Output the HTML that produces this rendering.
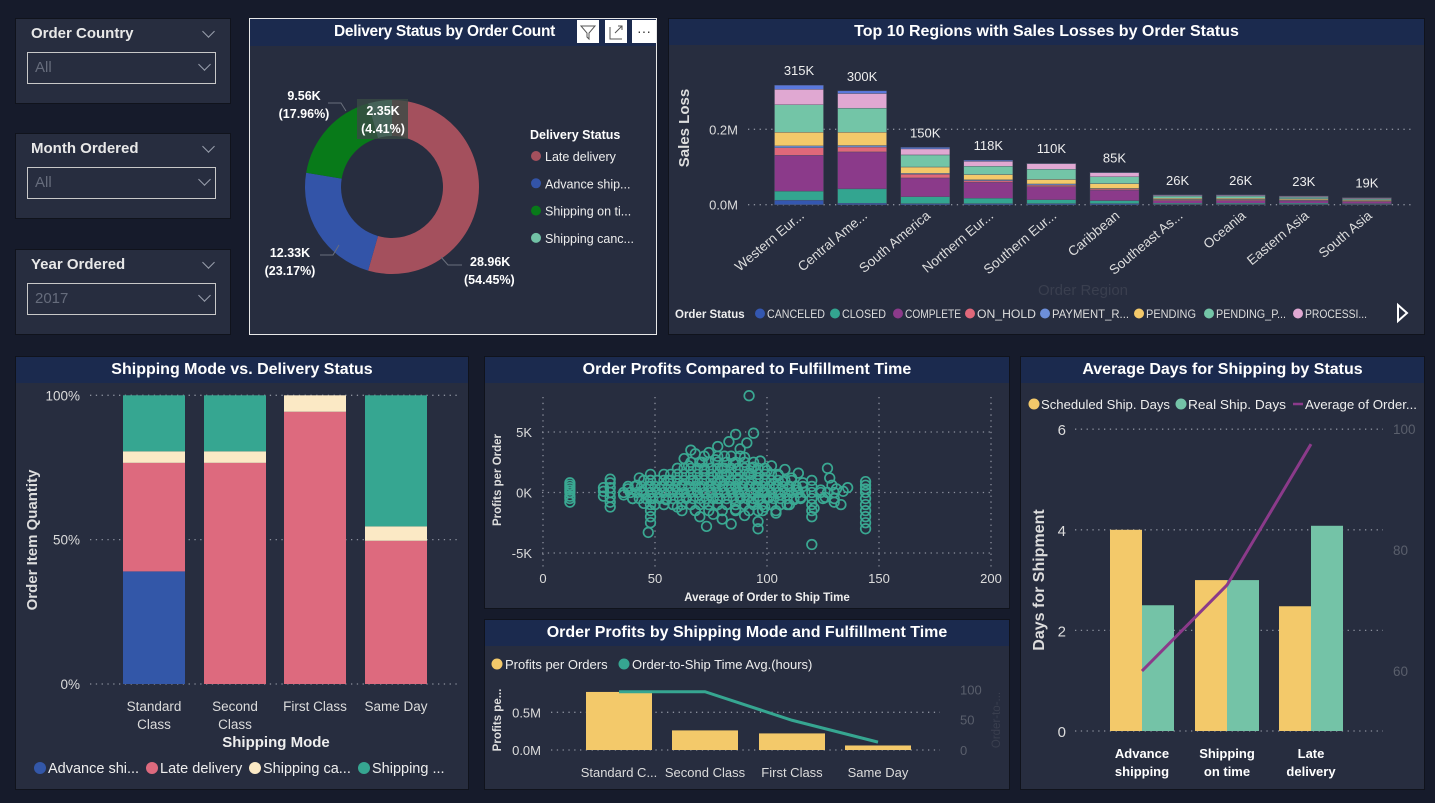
<!DOCTYPE html>
<html><head><meta charset="utf-8">
<style>
html,body{margin:0;padding:0;background:#161b2b;width:1435px;height:803px;overflow:hidden;font-family:"Liberation Sans",sans-serif;}
.panel{position:absolute;background:#272d3f;box-sizing:border-box;border:1px solid #10131c;}
.hdr{position:absolute;left:0;right:0;top:0;height:26px;background:#1b2a4e;color:#fff;font-weight:bold;font-size:16px;text-align:center;line-height:26px;}
.slicer-title{position:absolute;left:15px;top:6px;color:#e8e8e8;font-size:15px;font-weight:bold;}
.chev{position:absolute;width:8px;height:8px;border-right:1.5px solid #9aa0ad;border-bottom:1.5px solid #9aa0ad;transform:rotate(45deg);}
.dd{position:absolute;left:11px;top:33px;width:189px;height:32px;border:1.5px solid #c8c8c8;box-sizing:border-box;color:#666c7c;font-size:15px;line-height:30px;padding-left:7px;}
svg{position:absolute;left:0;top:0;}
</style></head><body>

<div class="panel" style="left:15px;top:18px;width:216px;height:86px;">
 <div class="slicer-title">Order Country</div>
 <div class="chev" style="left:188px;top:8px"></div>
 <div class="dd">All<div class="chev" style="left:172px;top:7px"></div></div>
</div>
<div class="panel" style="left:15px;top:133px;width:216px;height:86px;">
 <div class="slicer-title">Month Ordered</div>
 <div class="chev" style="left:188px;top:8px"></div>
 <div class="dd">All<div class="chev" style="left:172px;top:7px"></div></div>
</div>
<div class="panel" style="left:15px;top:249px;width:216px;height:86px;">
 <div class="slicer-title">Year Ordered</div>
 <div class="chev" style="left:188px;top:8px"></div>
 <div class="dd">2017<div class="chev" style="left:172px;top:7px"></div></div>
</div>

<div class="panel" style="left:249px;top:18px;width:408px;height:317px;border:1.5px solid #e8e8e8;">
 <div class="hdr" style="height:27px;text-align:left;padding-left:84px;font-size:15.5px;letter-spacing:-0.3px">Delivery Status by Order Count</div>
</div>
<div class="panel" style="left:668px;top:18px;width:757px;height:317px;">
 <div class="hdr">Top 10 Regions with Sales Losses by Order Status</div>
</div>
<div class="panel" style="left:15px;top:356px;width:454px;height:434px;">
 <div class="hdr">Shipping Mode vs. Delivery Status</div>
</div>
<div class="panel" style="left:484px;top:356px;width:526px;height:253px;">
 <div class="hdr">Order Profits Compared to Fulfillment Time</div>
</div>
<div class="panel" style="left:484px;top:619px;width:526px;height:171px;">
 <div class="hdr">Order Profits by Shipping Mode and Fulfillment Time</div>
</div>
<div class="panel" style="left:1020px;top:356px;width:405px;height:434px;">
 <div class="hdr">Average Days for Shipping by Status</div>
</div>

<svg id="s" width="1435" height="803"></svg>

<script>
// ---------- data ----------
const donutLabels = ["Late delivery","Advance shipping","Shipping on time","Shipping canceled"];
const donutValues = [28.96, 12.33, 9.56, 2.35];
const donutPct = ["54.45%","23.17%","17.96%","4.41%"];

const regionNames = ["Western Eur...","Central Ame...","South America","Northern Eur...","Southern Eur...","Caribbean","Southeast As...","Oceania","Eastern Asia","South Asia"];
const regionTotals = ["315K","300K","150K","118K","110K","85K","26K","26K","23K","19K"];
const statusNames = ["CANCELED","CLOSED","COMPLETE","ON_HOLD","PAYMENT_R...","PENDING","PENDING_P...","PROCESSI...","SUSPECTED"];
const sCanceled  = [12,4,3,3,3,3,1,1,1,1];
const sClosed    = [24,38,18,14,10,8,3,3,3,2];
const sComplete  = [95,98,50,43,35,28,7,7,6,5];
const sOnHold    = [20,13,10,4,4,3,2,2,2,2];
const sPayment   = [5,4,2,2,3,1,1,1,1,1];
const sPending   = [36,35,17,14,12,13,3,3,3,2];
const sPendingP  = [73,64,32,22,27,18,6,6,4,3];
const sProcess   = [41,39,16,13,15,11,2,2,2,2];
const sSuspected = [11,7,4,3,1,1,1,1,1,1];
const regionTicks = [0, 0.2];

const shipModes = ["Standard Class","Second Class","First Class","Same Day"];
const deliverySeries = ["Advance shi...","Late delivery","Shipping ca...","Shipping ..."];
const pctAdvance  = [39, 0, 0, 0];
const pctLate     = [37.6, 76.6, 94.3, 49.6];
const pctCanceled = [4, 4, 5.7, 5];
const pctOnTime   = [19.4, 19.4, 0, 45.4];

const scatterX = [12,12,12,12,12,12,12,12,27,27,27,30,30,30,30,30,30,30,36,38,40,42,44,45,43,48,48,48,48,48,48,48,48,48,47,
52,55,56,58,60,60,62,63,64,65,66,67,68,68,70,70,71,72,72,73,74,75,76,76,77,78,78,79,80,80,81,82,82,83,84,84,85,86,86,87,88,88,89,90,90,91,92,92,93,94,94,95,96,96,96,96,96,96,97,98,99,100,101,102,103,104,105,106,107,108,109,110,111,112,113,114,115,116,
120,120,120,120,120,120,120,120,121,124,126,128,129,130,131,127,134,136,133,144,144,144,144,144,144,144,144,144,144];
const scatterY = [-0.8,-0.5,-0.3,0,0.2,0.4,0.6,0.8,-0.3,0.1,0.4,-1.2,-0.8,-0.4,0,0.4,0.8,1.1,-0.2,0.3,-0.5,0.6,0.1,-0.9,1.2,-2.5,-2,-1.5,-1,-0.5,0,0.5,1,1.5,-3.3,
0.3,-0.6,1.0,0.2,-1.2,1.5,0.6,2.8,-0.4,2.2,3.5,1.0,-1.5,3.2,0.4,-2.0,2.5,1.8,-0.8,-2.8,3.3,0.2,1.3,-1.8,2.7,3.8,-0.5,0.9,-2.2,2.0,3.0,-1.0,1.5,4.2,0.3,-2.6,2.4,4.8,-1.4,1.1,3.6,-0.3,0.8,2.9,-1.9,4.1,8.0,1.6,-0.8,4.9,2.1,0.5,-3.0,-2.4,-1.5,-0.6,0.4,1.2,2.6,0.0,-1.2,1.8,-0.4,2.2,0.7,-1.7,1.4,-0.2,0.9,1.9,-1.0,0.5,1.2,-0.6,0.2,1.6,-0.4,0.8,
-4.3,-2.0,-1.5,-1,-0.5,0,0.5,1.0,-1.3,0.2,-0.4,1.2,0.6,-0.8,0.3,2.0,0.1,0.4,-1.0,-3.0,-2.5,-2,-1.5,-1,-0.5,0,0.3,0.6,0.9];
// dense core of the point cloud, one row of x positions per profit level (K)
const blobLevels = [3.0, 2.5, 2.0, 1.5, 1.0, 0.5, 0, -0.5, -1.0, -1.5];
const blobRowX = [
 [72,78,84,88],
 [66,70,74,78,82,86,90,94],
 [60,63,66,69,72,75,78,81,84,87,90,93,96,99],
 [54,57,60,63,66,69,72,75,78,81,84,87,90,93,96,99,102,105],
 [45,48,51,54,57,60,63,66,69,72,75,78,81,84,87,90,93,96,99,102,105,108,111],
 [38,41,44,47,50,53,56,59,62,65,68,71,74,77,80,83,86,89,92,95,98,101,104,107,110,113,116],
 [36,39,42,45,48,51,54,57,60,63,66,69,72,75,78,81,84,87,90,93,96,99,102,105,108,111,114,117,124,127,130],
 [40,43,46,49,52,55,58,61,64,67,70,73,76,79,82,85,88,91,94,97,100,103,106,109,112,115,125,130],
 [50,54,58,62,66,70,74,78,82,86,90,94,98,102,106,110],
 [62,68,74,80,86,92,98,104]
];
const scatterXTicks = [0,50,100,150,200];
const scatterYTicks = [-5,0,5];

const comboCats = ["Standard C...","Second Class","First Class","Same Day"];
const comboProfit = [0.77, 0.26, 0.22, 0.06];
const comboHours = [96, 96, 49, 13];

const daysCats = [["Advance","shipping"],["Shipping","on time"],["Late","delivery"]];
const daysScheduled = [4, 3, 2.48];
const daysReal = [2.5, 3, 4.08];
const daysAvgOrder = [60, 74.2, 97.5];
const daysLeftTicks = [0,2,4,6];
const daysRightTicks = [60,80,100];

// ---------- helpers ----------
const NS="http://www.w3.org/2000/svg";
const S=document.getElementById('s');
function mk(tag,a,parent){const e=document.createElementNS(NS,tag);for(const k in a)e.setAttribute(k,a[k]);(parent||S).appendChild(e);return e;}
function tx(x,y,str,a){const e=mk('text',Object.assign({x:x,y:y,fill:'#dcdcdc','font-size':13,'font-family':'Liberation Sans, sans-serif'},a||{}));e.textContent=str;return e;}
function grid(x1,x2,y){const e=mk('line',{x1:x1,x2:x2,y1:y,y2:y,stroke:'#8a8f9c','stroke-width':1.3,'stroke-dasharray':'1.3 4.5'});return e;}

// ---------- donut ----------
(function(){
 const cx=392,cy=187,R=87,r=51;const cols=['#a4505d','#3354a8','#087a19','#72c2a6'];
 const tot=donutValues.reduce((a,b)=>a+b,0);let a0=-Math.PI/2;
 donutValues.forEach((v,i)=>{const a1=a0+v/tot*2*Math.PI;const lg=(a1-a0)>Math.PI?1:0;
  const p=`M${cx+R*Math.cos(a0)},${cy+R*Math.sin(a0)} A${R},${R} 0 ${lg} 1 ${cx+R*Math.cos(a1)},${cy+R*Math.sin(a1)} L${cx+r*Math.cos(a1)},${cy+r*Math.sin(a1)} A${r},${r} 0 ${lg} 0 ${cx+r*Math.cos(a0)},${cy+r*Math.sin(a0)}Z`;
  const e=mk('path',{d:p,fill:cols[i]});
  
  
  a0=a1;});
 const fmt=v=>v.toFixed(2)+'K';
 mk('rect',{x:357,y:99,width:51,height:40,fill:'#3a4a45',opacity:0.8});
 const L=[[464,266,'start',0],[290,257,'middle',1],[304,100,'middle',2],[383,115,'middle',3]];
 L.forEach(([x,y,an,i])=>{const t1=tx(an==='start'?x+6:x,y,fmt(donutValues[i]),{fill:'#fff','font-weight':'bold','font-size':12.5,'text-anchor':an});
  
  
  const t2=tx(x,y+18,'('+donutPct[i]+')',{fill:'#fff','font-weight':'bold','font-size':12.5,'text-anchor':an});
  
  });
 mk('polyline',{points:'441,257 448,265 462,265',fill:'none',stroke:'#6a6f7c'});
 mk('polyline',{points:'339,245 333,255 320,255',fill:'none',stroke:'#6a6f7c'});
 mk('polyline',{points:'346,111 341,103 328,103',fill:'none',stroke:'#6a6f7c'});
 const lt=tx(530,139,'Delivery Status',{fill:'#fff','font-weight':'bold','font-size':12.5});
 
 
 const shortL=['Late delivery','Advance ship...','Shipping on ti...','Shipping canc...'];
 shortL.forEach((s,i)=>{const y=156+i*27.3;
  const c=mk('circle',{cx:536,cy:y,r:5,fill:cols[i]});
  
  
  const t=tx(545,y+5,s,{fill:'#eee','font-size':12.5});
  
  });
 [[577,'filter'],[605,'focus'],[632,'more']].forEach(([x,n])=>{const b=mk('rect',{x:x,y:20,width:n==='more'?24:22,height:23,fill:'#fff'});
  
  });
 mk('path',{d:'M581,26 L595,26 L589,33 L589,39 L587,37 L587,33Z',fill:'none',stroke:'#555','stroke-width':1});
 mk('path',{d:'M610,27 L610,39 L622,39 M615,33 L622,26 M618,26 L622,26 L622,30',fill:'none',stroke:'#555','stroke-width':1});
 tx(644,36,'···',{fill:'#333','font-size':14,'text-anchor':'middle'});
})();

// ---------- sales loss stacked ----------
(function(){
 const y0=204.7,pxK=0.377,x0=799,step=63.1,bw=49;
 const yv=v=>y0-v*pxK;
 const series=[sCanceled,sClosed,sComplete,sOnHold,sPayment,sPending,sPendingP,sProcess,sSuspected];
 const cols=['#3457b0','#33a590','#8b3a8a','#e0687a','#6d8fda','#f4c96a','#73c5a7','#e0a8d2','#5a78dc'];
 regionTicks.forEach(t=>{grid(748,1415,yv(t*1000));
  const l=tx(738,yv(t*1000)+5,t.toFixed(1)+'M',{'text-anchor':'end','font-size':13});
  
  });
 regionNames.forEach((n,i)=>{const cx=x0+i*step;let acc=0;
  series.forEach((s,j)=>{const v=s[i];const r=mk('rect',{x:cx-bw/2,y:yv(acc+v),width:bw,height:v*pxK,fill:cols[j],stroke:'#4a5060','stroke-width':0.4});
   
   
   acc+=v;});
  const tl=tx(cx,yv(acc)-10,regionTotals[i],{'text-anchor':'middle','font-size':13,fill:'#eee'});
  
  
  const c=tx(cx+6,217,n,{'text-anchor':'end','font-size':13.5,fill:'#ddd',transform:`rotate(-40 ${cx+6} 217)`});
  
  });
 const yt=tx(689,128,'Sales Loss',{'text-anchor':'middle','font-size':15,'font-weight':'bold',fill:'#ddd',transform:'rotate(-90 689 128)'});
 
 
 const xt=tx(1083,295,'Order Region',{'text-anchor':'middle','font-size':15,fill:'#3a3f4f'});
 
 
 const lg=tx(675,318,'Order Status',{'font-size':11.5,'font-weight':'bold',fill:'#eee'});
 
 
 const lx=[760,835,898,970,1045,1139,1209,1298];
 const lw=[58,44,56,59,77,50,70,62];
 lx.forEach((x,j)=>{const c=mk('circle',{cx:x,cy:313.5,r:5,fill:cols[j]});
  
  
  const t=tx(x+7,318,statusNames[j],{'font-size':12,fill:'#ddd',textLength:lw[j],lengthAdjust:'spacingAndGlyphs'});
  
  });
 const ar=mk('path',{d:'M1398,305 L1407,313 L1398,321Z',fill:'none',stroke:'#fff','stroke-width':2});
 
 
})();

// ---------- shipping mode 100% stacked ----------
(function(){
 const y0=684,h=288.7,bw=62,cxs=[154,235,315,396];
 const yv=p=>y0-p/100*h;
 const series=[pctAdvance,pctLate,pctCanceled,pctOnTime];
 const cols=['#3357a8','#dd6a7e','#fbe9c5','#36a691'];
 [0,50,100].forEach(t=>{grid(90,460,yv(t));
  const l=tx(80,yv(t)+5,t+'%',{'text-anchor':'end','font-size':13.5});
  
  });
 shipModes.forEach((m,i)=>{let acc=0;
  series.forEach((s,j)=>{const v=s[i];if(v<=0)return;
   const r=mk('rect',{x:cxs[i]-bw/2,y:yv(acc+v),width:bw,height:v/100*h,fill:cols[j]});
   
   
   acc+=v;});
  const w=m.split(' ');
  const lines=(m==='First Class'||m==='Same Day')?[m]:w;
  lines.forEach((ln,k)=>{const t=tx(cxs[i],711+k*18,ln,{'text-anchor':'middle','font-size':13.5});
   
   });});
 const yt=tx(37,540,'Order Item Quantity',{'text-anchor':'middle','font-size':15,'font-weight':'bold',fill:'#ddd',transform:'rotate(-90 37 540)'});
 
 
 const xt=tx(276,747,'Shipping Mode',{'text-anchor':'middle','font-size':15,'font-weight':'bold',fill:'#eee'});
 
 
 const lx=[40,152,255,364];
 lx.forEach((x,j)=>{const c=mk('circle',{cx:x,cy:768,r:6,fill:cols[j]});
  
  
  const t=tx(x+8,773,deliverySeries[j],{'font-size':14.5,fill:'#eee'});
  
  });
})();

// ---------- scatter ----------
(function(){
 const xv=v=>543+v*2.24,yv=v=>492.5-v*12.1;
 scatterYTicks.forEach(t=>{grid(542,991,yv(t));
  const l=tx(532,yv(t)+5,t+'K',{'text-anchor':'end','font-size':13});
  
  });
 scatterXTicks.forEach(t=>{const g=mk('line',{x1:xv(t),x2:xv(t),y1:397,y2:567,stroke:'#8a8f9c','stroke-width':1.3,'stroke-dasharray':'1.3 4.5'});
  
  
  const l=tx(xv(t),583,String(t),{'text-anchor':'middle','font-size':13});
  
  });
 const pt=(x,y)=>{const c=mk('circle',{cx:xv(x),cy:yv(y),r:4.8,fill:'none',stroke:'#3aa892','stroke-width':1.7});
  
  };
 scatterX.forEach((x,i)=>pt(x,scatterY[i]));
 blobLevels.forEach((y,k)=>blobRowX[k].forEach(x=>pt(x,y)));
 const xt=tx(767,601,'Average of Order to Ship Time',{'text-anchor':'middle','font-size':11.5,'font-weight':'bold',fill:'#eee'});
 
 
 const yt=tx(501,480,'Profits per Order',{'text-anchor':'middle','font-size':11.5,'font-weight':'bold',fill:'#ddd',transform:'rotate(-90 501 480)'});
 
 
})();

// ---------- combo ----------
(function(){
 const y0=750,pxM=75.4,pxH=0.607,cxs=[619,705,792,878],bw=66;
 const yv=v=>y0-v*pxM,yh=v=>y0-v*pxH;
 [0,0.5].forEach(t=>{grid(551,940,yv(t));
  const l=tx(541,yv(t)+5,t.toFixed(1)+'M',{'text-anchor':'end','font-size':13});
  
  });
 [0,50,100].forEach(t=>{const l=tx(960,yh(t)+5,String(t),{'text-anchor':'start','font-size':13,fill:'#5a5f6c'});
  
  });
 comboCats.forEach((c,i)=>{const r=mk('rect',{x:cxs[i]-bw/2,y:yv(comboProfit[i]),width:bw,height:comboProfit[i]*pxM,fill:'#f3c96a'});
  
  
  const t=tx(cxs[i],777,c,{'text-anchor':'middle','font-size':13});
  
  });
 const pl=mk('polyline',{points:comboHours.map((h,i)=>cxs[i]+','+yh(h)).join(' '),fill:'none',stroke:'#36a691','stroke-width':3});
 
 
 [[497,'#f3c96a','Profits per Orders'],[624,'#36a691','Order-to-Ship Time Avg.(hours)']].forEach(([x,c,s])=>{
  const m=mk('circle',{cx:x,cy:664,r:5.5,fill:c});
  
  
  const t=tx(x+8,669,s,{'font-size':13,fill:'#eee'});
  
  });
 const yt=tx(501,720,'Profits pe...',{'text-anchor':'middle','font-size':11.5,'font-weight':'bold',fill:'#ddd',transform:'rotate(-90 501 720)'});
 
 
 const rt=tx(1000,720,'Order-to-...',{'text-anchor':'middle','font-size':11.5,fill:'#3a3f4f',transform:'rotate(-90 1000 720)'});
 
 
})();

// ---------- avg days ----------
(function(){
 const y0=731,px=50.3,cxs=[1142,1227,1311],bw=32;
 const yv=v=>y0-v*px;
 const yR=v=>429+(100-v)*6.05;
 daysLeftTicks.forEach(t=>{grid(1075,1383,yv(t));
  const l=tx(1066,yv(t)+6,String(t),{'text-anchor':'end','font-size':15});
  
  });
 daysRightTicks.forEach(t=>{const l=tx(1393,yR(t)+5,String(t),{'font-size':13.5,fill:'#5a5f6c'});
  
  });
 daysCats.forEach((c,i)=>{
  const a=mk('rect',{x:cxs[i]-bw,y:yv(daysScheduled[i]),width:bw,height:daysScheduled[i]*px,fill:'#f3c96a'});
  
  
  const b=mk('rect',{x:cxs[i],y:yv(daysReal[i]),width:bw,height:daysReal[i]*px,fill:'#74c3a7'});
  
  
  c.forEach((ln,k)=>{const t=tx(cxs[i],758+k*18,ln,{'text-anchor':'middle','font-size':13,'font-weight':'bold',fill:'#fff'});
   
   });});
 const pl=mk('polyline',{points:daysAvgOrder.map((v,i)=>cxs[i]+','+yR(v)).join(' '),fill:'none',stroke:'#8b3a8a','stroke-width':3});
 
 
 const yt=tx(1044,580,'Days for Shipment',{'text-anchor':'middle','font-size':16,'font-weight':'bold',fill:'#ddd',transform:'rotate(-90 1044 580)'});
 
 
 [[1034,'#f3c96a','Scheduled Ship. Days','c',129],[1181,'#74c3a7','Real Ship. Days','c',98],[1298,'#8b3a8a','Average of Order...','l',112]].forEach(([x,c,s,k,w])=>{
  const m=k==='c'?mk('circle',{cx:x,cy:404,r:5.5,fill:c}):mk('line',{x1:x-5,x2:x+5,y1:404,y2:404,stroke:c,'stroke-width':2.5});
  
  
  const t=tx(x+7,409,s,{'font-size':13,fill:'#eee',textLength:w,lengthAdjust:'spacingAndGlyphs'});
  
  });
})();
</script>
</body></html>
